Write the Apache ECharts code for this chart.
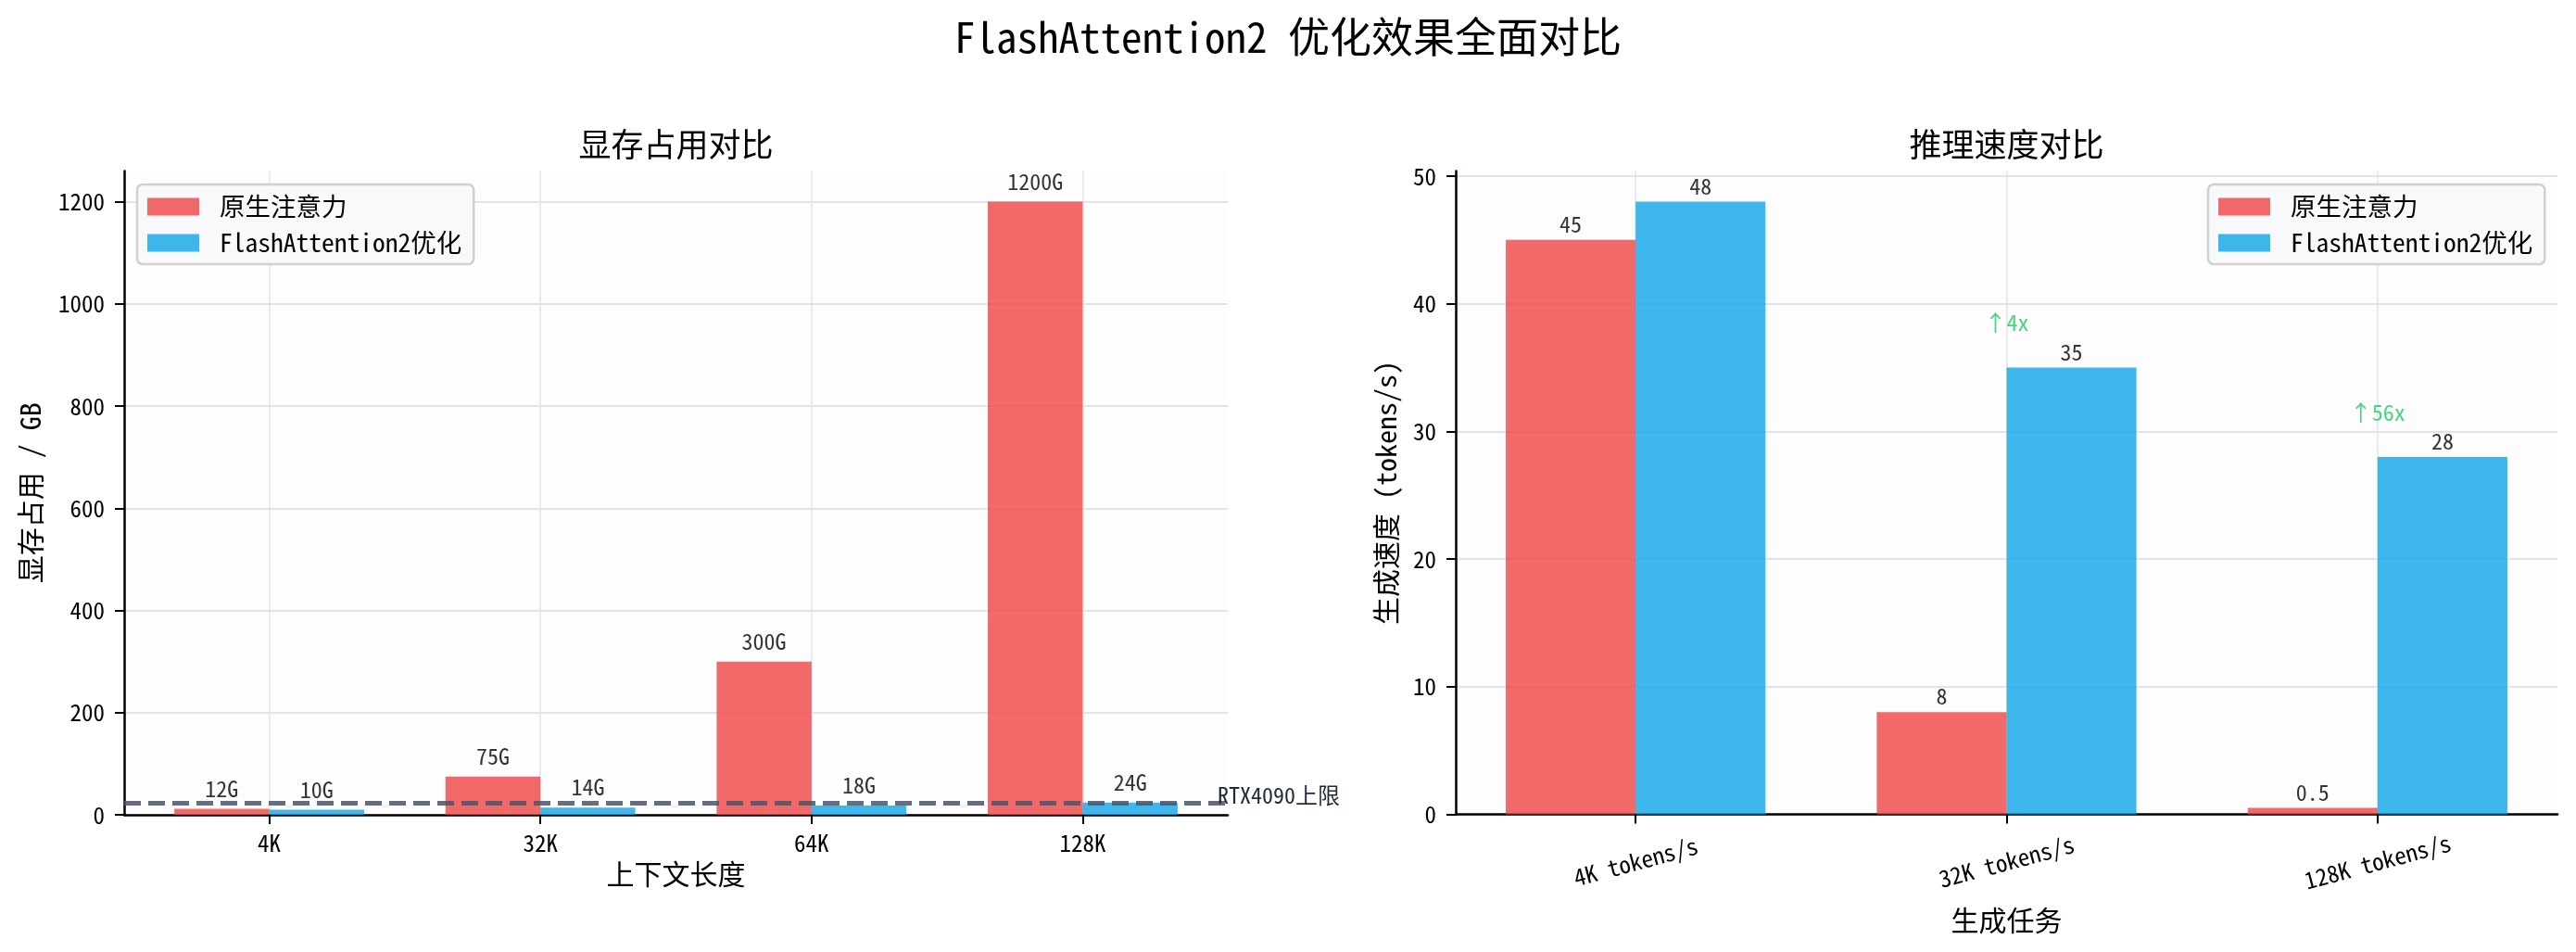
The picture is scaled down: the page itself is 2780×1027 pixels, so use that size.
<!DOCTYPE html>
<html>
<head>
<meta charset="utf-8">
<title>FlashAttention2 优化效果全面对比</title>
<script src="https://cdn.jsdelivr.net/npm/echarts@6/dist/echarts.min.js"></script>
<style>
  html, body { margin: 0; padding: 0; background: #fff; }
  #main { width: 2780px; height: 1027px; }
</style>
</head>
<body>
<div id="main"></div>
<script>
// 数据
var memCategories = ['4K', '32K', '64K', '128K'];
var memNative = [12, 75, 300, 1200];
var memFlash = [10, 14, 18, 24];
var memTicks = [0, 200, 400, 600, 800, 1000, 1200];
var gpuLimit = 24;

var speedCategories = ['4K tokens/s', '32K tokens/s', '128K tokens/s'];
var speedNative = [45, 8, 0.5];
var speedFlash = [48, 35, 28];
var speedTicks = [0, 10, 20, 30, 40, 50];

var NAME_NATIVE = '原生注意力';
var NAME_FLASH = 'FlashAttention2优化';
var FONT = "'Noto Sans Mono CJK SC', 'Noto Sans CJK SC', sans-serif";
var RED = '#ef4444';
var BLUE = '#0ea5e9';
var GRID_COLOR = '#dfe3ea';

var chart = echarts.init(document.getElementById('main'));

function pairs(arr) {
    return arr.map(function (v, i) { return [i, v]; });
}

// 加速倍数标注（只在有提升的地方）
var speedupMarks = [];
speedNative.forEach(function (v, i) {
    var r = Math.round(speedFlash[i] / v);
    if (r > 1) speedupMarks.push([i, speedFlash[i] + 3.5, '↑' + r + 'x']);
});

function barSeries(name, data, color, xi, fmt, dist) {
    return {
        name: name,
        type: 'bar',
        xAxisIndex: xi,
        yAxisIndex: xi,
        data: pairs(data),
        barWidth: '35%',
        barGap: '0%',
        itemStyle: { color: color, opacity: 0.8 },
        label: {
            show: true,
            position: 'top',
            distance: dist,
            color: '#000',
            fontFamily: FONT,
            fontSize: 24,
            formatter: function (p) { return p.value[1] + fmt; }
        }
    };
}

function xAxisOf(gi, cats, min, max, rotate, margin, name, nameGap) {
    var idx = cats.map(function (c, i) { return i; });
    return {
        type: 'value',
        gridIndex: gi,
        min: min,
        max: max,
        name: name,
        nameLocation: 'middle',
        nameGap: nameGap,
        nameTextStyle: { fontFamily: FONT, fontSize: 30, color: '#000' },
        axisLine: { show: true, onZero: false, lineStyle: { color: '#000', width: 2.5 } },
        axisTick: { show: true, length: 10, customValues: idx, lineStyle: { color: '#000', width: 2 } },
        axisLabel: {
            customValues: idx,
            rotate: rotate,
            align: 'center',
            verticalAlign: rotate ? 'middle' : 'top',
            margin: margin,
            color: '#000',
            fontFamily: FONT,
            fontSize: 25,
            formatter: function (v) { return cats[Math.round(v)]; }
        },
        splitLine: { show: true, lineStyle: { color: GRID_COLOR, width: 1.5 } }
    };
}

function yAxisOf(gi, ticks, max, name, nameGap) {
    return {
        type: 'value',
        gridIndex: gi,
        min: 0,
        max: max,
        name: name,
        nameLocation: 'middle',
        nameGap: nameGap,
        nameTextStyle: { fontFamily: FONT, fontSize: 30, color: '#000' },
        axisLine: { show: true, onZero: false, lineStyle: { color: '#000', width: 2.5 } },
        axisTick: { show: true, length: 10, customValues: ticks, lineStyle: { color: '#000', width: 2 } },
        axisLabel: {
            customValues: ticks, margin: 21, color: '#000', fontFamily: FONT, fontSize: 25,
            formatter: function (v) { return String(v); }
        },
        splitLine: { show: true, lineStyle: { color: GRID_COLOR, width: 2 } }
    };
}

function legendAt(left) {
    return {
        data: [NAME_NATIVE, NAME_FLASH],
        orient: 'vertical',
        left: left,
        top: 199,
        icon: 'rect',
        itemWidth: 56,
        itemHeight: 19,
        itemGap: 11,
        padding: [10, 13, 9, 11],
        backgroundColor: 'rgba(248,249,251,0.95)',
        borderColor: '#d0d0d0',
        borderWidth: 2.5,
        borderRadius: 6,
        selectedMode: false,
        textStyle: { fontFamily: FONT, fontSize: 27.5, lineHeight: 28, color: '#000', padding: [0, 0, 0, 17] }
    };
}

var memNativeSeries = barSeries(NAME_NATIVE, memNative, RED, 0, 'G', 10);
memNativeSeries.markLine = {
    silent: true,
    symbol: ['none', 'none'],
    data: [{ yAxis: gpuLimit }],
    lineStyle: { color: '#4a5568', opacity: 0.85, width: 5, type: [18, 8] },
    label: {
        show: true,
        position: 'end',
        distance: 0,
        offset: [-11, -8],
        formatter: 'RTX4090上限',
        color: '#1f2937',
        opacity: 1,
        fontFamily: FONT,
        fontSize: 24
    }
};

chart.setOption({
    backgroundColor: '#ffffff',
    animation: false,
    title: [
        {
            text: 'FlashAttention2 优化效果全面对比',
            left: 'center', top: 17, padding: 0,
            textStyle: { fontFamily: FONT, fontSize: 45, fontWeight: 'normal', color: '#000' }
        },
        {
            text: '显存占用对比',
            left: 729.5, top: 138, padding: 0, textAlign: 'center',
            textStyle: { fontFamily: FONT, fontSize: 35, fontWeight: 'normal', color: '#000' }
        },
        {
            text: '推理速度对比',
            left: 2165.5, top: 138, padding: 0, textAlign: 'center',
            textStyle: { fontFamily: FONT, fontSize: 35, fontWeight: 'normal', color: '#000' }
        }
    ],
    legend: [legendAt(148), legendAt(2383)],
    grid: [
        { left: 134, top: 184.5, width: 1191, height: 694.5, show: true, backgroundColor: '#fdfdfe', borderWidth: 0 },
        { left: 1571, top: 184.5, width: 1189, height: 694, show: true, backgroundColor: '#fdfdfe', borderWidth: 0 }
    ],
    xAxis: [
        xAxisOf(0, memCategories, -0.535, 3.535, 0, 18, '上下文长度', 49),
        xAxisOf(1, speedCategories, -0.485, 2.485, 15, 51, '生成任务', 99)
    ],
    yAxis: [
        yAxisOf(0, memTicks, 1260, '显存占用 / GB', 86),
        yAxisOf(1, speedTicks, 50.4, '生成速度 (tokens/s)', 60)
    ],
    series: [
        memNativeSeries,
        barSeries(NAME_FLASH, memFlash, BLUE, 0, 'G', 10),
        barSeries(NAME_NATIVE, speedNative, RED, 1, '', 5),
        barSeries(NAME_FLASH, speedFlash, BLUE, 1, '', 5),
        {
            type: 'scatter',
            xAxisIndex: 1,
            yAxisIndex: 1,
            symbolSize: 0,
            silent: true,
            data: speedupMarks,
            label: {
                show: true,
                position: 'inside',
                color: '#22c55e',
                fontFamily: FONT,
                fontSize: 24,
                formatter: function (p) { return p.value[2]; }
            }
        }
    ]
});
</script>
</body>
</html>
